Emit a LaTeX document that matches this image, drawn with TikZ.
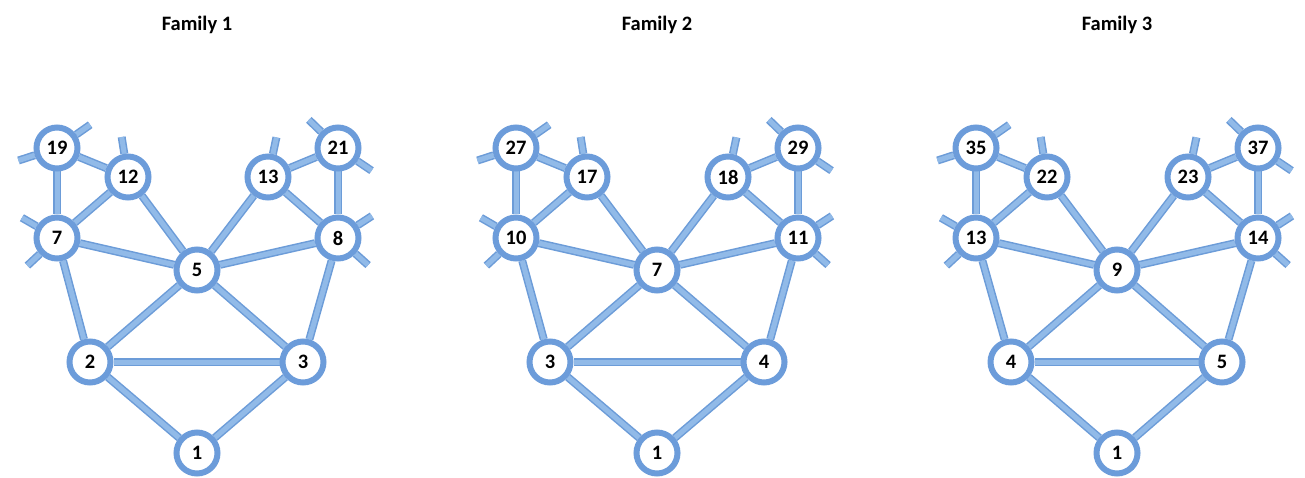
\documentclass[tikz,border=0pt]{standalone}
\usepackage{fontspec}
\setmainfont{Carlito}
\usetikzlibrary{backgrounds}
\definecolor{ringblue}{RGB}{108,156,218}
\definecolor{edgeout}{RGB}{108,156,216}
\definecolor{edgein}{RGB}{145,186,232}
\tikzset{
  vtx/.style={circle,draw=ringblue,line width=6pt,fill=white,minimum size=41pt,inner sep=0pt,
    font=\fontsize{20.5}{20.5}\selectfont\bfseries},
  edge/.style={draw=edgeout,line width=1.5pt,double=edgein,double distance=5pt},
  famtitle/.style={font=\fontsize{20.5}{20.5}\selectfont\bfseries},
}
\newcommand\stub[2]{\draw[edge] (#1.#2) -- ++(#2:17pt);}
\begin{document}
\begin{tikzpicture}[x=1pt,y=-1pt]
\useasboundingbox (0,0) rectangle (1305,478);
% ---------------- Family 1 ----------------
\node[famtitle] (t1) at (197,25) {Family 1};
\node[vtx] (a19) at (57,148) {19};
\node[vtx] (a12) at (128,177) {12};
\node[vtx] (a13) at (268,177) {13};
\node[vtx] (a21) at (338,148) {21};
\node[vtx] (a7) at (57,238) {7};
\node[vtx] (a8) at (338,238) {8};
\node[vtx] (a5) at (197,270) {5};
\node[vtx] (a2) at (90,362) {2};
\node[vtx] (a3) at (303,362) {3};
\node[vtx] (a1) at (197,453) {1};
% ---------------- Family 2 ----------------
\node[famtitle] (t2) at (657,25) {Family 2};
\node[vtx] (b27) at (516,148) {27};
\node[vtx] (b17) at (587,177) {17};
\node[vtx] (b18) at (728,177) {18};
\node[vtx] (b29) at (798,148) {29};
\node[vtx] (b10) at (516,238) {10};
\node[vtx] (b11) at (798,238) {11};
\node[vtx] (b7) at (657,270) {7};
\node[vtx] (b3) at (550,362) {3};
\node[vtx] (b4) at (764,362) {4};
\node[vtx] (b1) at (657,453) {1};
% ---------------- Family 3 ----------------
\node[famtitle] (t3) at (1117,25) {Family 3};
\node[vtx] (c35) at (976,148) {35};
\node[vtx] (c22) at (1047,177) {22};
\node[vtx] (c23) at (1188,177) {23};
\node[vtx] (c37) at (1258,148) {37};
\node[vtx] (c13) at (976,238) {13};
\node[vtx] (c14) at (1258,238) {14};
\node[vtx] (c9) at (1117,270) {9};
\node[vtx] (c4) at (1011,362) {4};
\node[vtx] (c5) at (1222,362) {5};
\node[vtx] (c1) at (1117,453) {1};
\begin{pgfonlayer}{background}
\foreach \p/\A/\B/\C/\D/\E/\F/\G/\H/\I in {a/19/12/13/21/7/8/5/2/3, b/27/17/18/29/10/11/7/3/4, c/35/22/23/37/13/14/9/4/5}{
  \draw[edge] (\p\A) -- (\p\B);
  \draw[edge] (\p\A) -- (\p\E);
  \draw[edge] (\p\B) -- (\p\E);
  \draw[edge] (\p\B) -- (\p\G);
  \draw[edge] (\p\C) -- (\p\G);
  \draw[edge] (\p\C) -- (\p\D);
  \draw[edge] (\p\C) -- (\p\F);
  \draw[edge] (\p\D) -- (\p\F);
  \draw[edge] (\p\E) -- (\p\G);
  \draw[edge] (\p\F) -- (\p\G);
  \draw[edge] (\p\E) -- (\p\H);
  \draw[edge] (\p\G) -- (\p\H);
  \draw[edge] (\p\G) -- (\p\I);
  \draw[edge] (\p\F) -- (\p\I);
  \draw[edge] (\p\H) -- (\p\I);
  \draw[edge] (\p\H) -- (\p 1);
  \draw[edge] (\p\I) -- (\p 1);
  \stub{\p\A}{198}
  \stub{\p\A}{35}
  \stub{\p\B}{99}
  \stub{\p\E}{150}
  \stub{\p\E}{223}
  \stub{\p\C}{78}
  \stub{\p\D}{136}
  \stub{\p\D}{326}
  \stub{\p\F}{33}
  \stub{\p\F}{318}
}
\end{pgfonlayer}
\end{tikzpicture}
\end{document}
